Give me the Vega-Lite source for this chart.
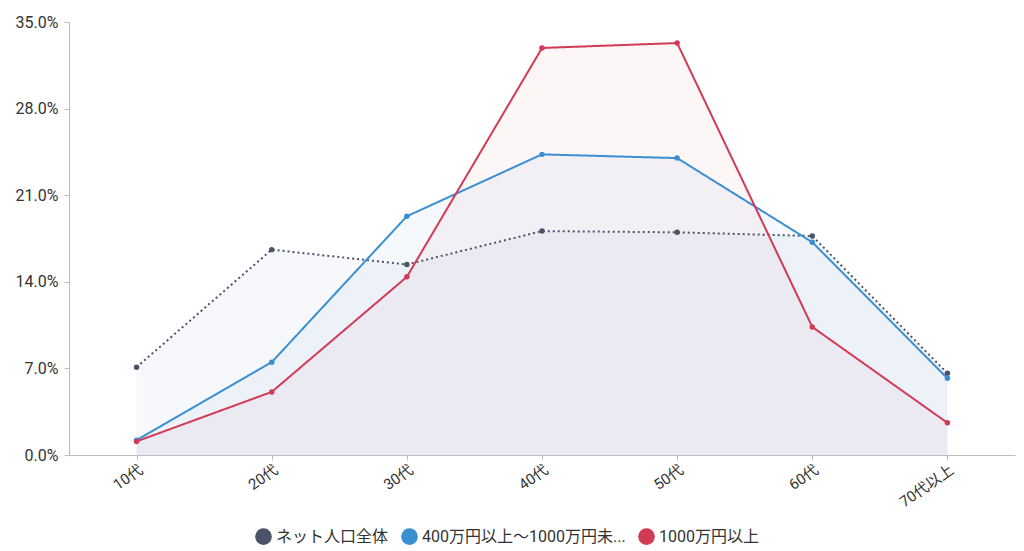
{
  "$schema": "https://vega.github.io/schema/vega-lite/v6.json",
  "width": 946,
  "height": 433,
  "autosize": {"type": "none"},
  "padding": {"left": 69, "top": 22, "right": 9, "bottom": 96},
  "background": "white",
  "config": {
    "font": "Roboto, Noto Sans CJK JP",
    "view": {"stroke": null},
    "axis": {"labelFont": "Roboto, Noto Sans CJK JP", "labelColor": "#333333", "domainColor": "#bdbdbd", "tickColor": "#bdbdbd", "grid": false}
  },
  "data": {
    "values": [
      {"age": "10代", "series": "ネット人口全体", "value": 7.1},
      {"age": "20代", "series": "ネット人口全体", "value": 16.6},
      {"age": "30代", "series": "ネット人口全体", "value": 15.4},
      {"age": "40代", "series": "ネット人口全体", "value": 18.1},
      {"age": "50代", "series": "ネット人口全体", "value": 18.0},
      {"age": "60代", "series": "ネット人口全体", "value": 17.7},
      {"age": "70代以上", "series": "ネット人口全体", "value": 6.6},
      {"age": "10代", "series": "400万円以上～1000万円未...", "value": 1.2},
      {"age": "20代", "series": "400万円以上～1000万円未...", "value": 7.5},
      {"age": "30代", "series": "400万円以上～1000万円未...", "value": 19.3},
      {"age": "40代", "series": "400万円以上～1000万円未...", "value": 24.3},
      {"age": "50代", "series": "400万円以上～1000万円未...", "value": 24.0},
      {"age": "60代", "series": "400万円以上～1000万円未...", "value": 17.2},
      {"age": "70代以上", "series": "400万円以上～1000万円未...", "value": 6.2},
      {"age": "10代", "series": "1000万円以上", "value": 1.1},
      {"age": "20代", "series": "1000万円以上", "value": 5.1},
      {"age": "30代", "series": "1000万円以上", "value": 14.4},
      {"age": "40代", "series": "1000万円以上", "value": 32.9},
      {"age": "50代", "series": "1000万円以上", "value": 33.3},
      {"age": "60代", "series": "1000万円以上", "value": 10.35},
      {"age": "70代以上", "series": "1000万円以上", "value": 2.6}
    ]
  },
  "encoding": {
    "x": {
      "field": "age", "type": "ordinal",
      "scale": {"type": "point", "padding": 0.5, "domain": ["10代","20代","30代","40代","50代","60代","70代以上"]},
      "axis": {"title": null, "labelAngle": -35, "labelFontSize": 15, "labelAlign": "right", "labelBaseline": "top", "tickSize": 5, "labelPadding": 2}
    },
    "y": {
      "field": "value", "type": "quantitative",
      "scale": {"domain": [0, 35], "nice": false},
      "axis": {"title": null, "values": [0,7,14,21,28,35], "labelExpr": "format(datum.value, '.1f') + '%'", "labelFontSize": 16, "tickSize": 5, "labelPadding": 6}
    }
  },
  "resolve": {"scale": {"color": "independent"}, "legend": {"color": "independent"}},
  "layer": [
    {
      "mark": {"type": "area", "fillOpacity": 0.05, "line": false},
      "encoding": {
        "y2": {"datum": 0},
        "color": {"field": "series", "type": "nominal", "scale": {"domain": ["ネット人口全体", "400万円以上～1000万円未...", "1000万円以上"], "range": ["#5a70a8", "#3a8fd0", "#e0506a"]}, "legend": null}
      }
    },
    {
      "mark": {"type": "line", "strokeWidth": 2},
      "encoding": {
        "color": {"field": "series", "type": "nominal", "scale": {"domain": ["ネット人口全体", "400万円以上～1000万円未...", "1000万円以上"], "range": ["#4b5369", "#3a8fd0", "#d23b55"]}, "legend": null},
        "strokeDash": {"field": "series", "type": "nominal", "scale": {"domain": ["ネット人口全体", "400万円以上～1000万円未...", "1000万円以上"], "range": [[2, 3], [1, 0], [1, 0]]}, "legend": null}
      }
    },
    {
      "mark": {"type": "point", "filled": true, "size": 30, "opacity": 1},
      "encoding": {
        "color": {
          "field": "series", "type": "nominal",
          "scale": {"domain": ["ネット人口全体", "400万円以上～1000万円未...", "1000万円以上"], "range": ["#4b5369", "#3a8fd0", "#d23b55"]},
          "legend": {"title": null, "orient": "none", "legendX": 186, "legendY": 506, "direction": "horizontal", "symbolType": "circle", "symbolSize": 280, "symbolStrokeWidth": 0, "symbolOpacity": 1, "labelFontSize": 16, "labelColor": "#333333", "labelOffset": 4, "columnPadding": 12, "labelLimit": 300}
        }
      }
    }
  ]
}
